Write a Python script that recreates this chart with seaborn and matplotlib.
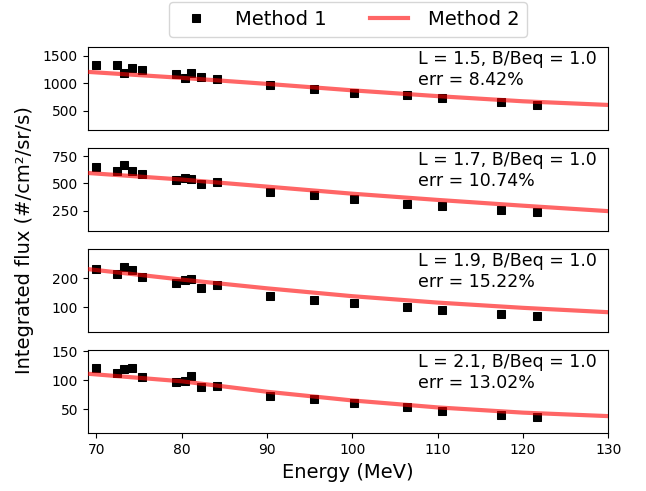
import numpy as np
import pandas as pd
import seaborn as sns
import matplotlib.pyplot as plt

# energies of the Method 1 points (MeV)
energy = [70.0, 72.4, 73.3, 74.2, 75.4, 79.3, 80.4, 81.1, 82.3, 84.1,
          90.4, 95.5, 100.2, 106.4, 110.5, 117.4, 121.6]

# Method 1 points, one list per panel
m1_L15 = [1331, 1331, 1184, 1276, 1239, 1172, 1104, 1196, 1117, 1074,
          963, 902, 828, 791, 731, 658, 611]
m1_L17 = [647, 610, 666, 617, 589, 534, 549, 540, 497, 509,
          420, 396, 356, 313, 288, 258, 233]
m1_L19 = [230, 213, 237, 229, 203, 184, 194, 198, 167, 175,
          138, 125, 113, 100, 89, 78, 71]
m1_L21 = [121.7, 113, 120, 121.7, 105.7, 96, 98.9, 107.4, 88.6, 90.3,
          72.6, 67.4, 60, 53.1, 47.4, 40, 37.1]

# Method 2 curve
fit_energy = [69, 80, 90, 100, 110, 120, 130]
m2_L15 = [1209, 1100, 990, 872, 766, 672, 605]
m2_L17 = [595, 535, 470, 405, 348, 295, 245]
m2_L19 = [231, 195, 165, 138, 116, 98, 83]
m2_L21 = [111, 98, 80, 65, 53, 44, 38]

L_vals = ['1.5', '1.7', '1.9', '2.1']
errs = ['8.42%', '10.74%', '15.22%', '13.02%']
ylims = [(142, 1669), (60, 827), (14, 301), (8.4, 152.4)]
yticks = [[500, 1000, 1500], [250, 500, 750], [100, 200], [50, 100, 150]]
xticks = [70, 80, 90, 100, 110, 120, 130]

method1 = [m1_L15, m1_L17, m1_L19, m1_L21]
method2 = [m2_L15, m2_L17, m2_L19, m2_L21]

fig, axes = plt.subplots(4, 1, figsize=(6.46, 4.91), dpi=100)
plt.subplots_adjust(left=0.1358, right=0.9416, top=0.9049, bottom=0.1175, hspace=0.208)

for i, ax in enumerate(axes):
    sns.lineplot(x=energy, y=method1[i], marker='s', linestyle='none', color='k',
                 markersize=6, markeredgecolor='k', ax=ax, label='Method 1', zorder=2)
    sns.lineplot(x=fit_energy, y=method2[i], color='red', alpha=0.6, lw=3,
                 ax=ax, label='Method 2', zorder=3)
    ax.set_xlim(69, 130)
    ax.set_ylim(*ylims[i])
    ax.set_yticks(yticks[i])
    ax.tick_params(labelsize=10)
    ax.text(0.635, 0.96, 'L = ' + L_vals[i] + ', B/Beq = 1.0\nerr = ' + errs[i],
            transform=ax.transAxes, ha='left', va='top', fontsize=12.5)
    if i < 3:
        ax.set_xticks([])
    else:
        ax.set_xticks(xticks)
    ax.get_legend().remove()

axes[3].set_xlabel('Energy (MeV)', fontsize=14)
fig.text(0.038, 0.511, 'Integrated flux (#/cm²/sr/s)', rotation=90,
         ha='center', va='center', fontsize=14)

handles, labels = axes[0].get_legend_handles_labels()
fig.legend(handles, labels, loc='upper center', bbox_to_anchor=(0.539, 1.0),
           ncol=2, fontsize=14, borderaxespad=0.1, handletextpad=1.0,
           columnspacing=2.2)

fig.savefig('out.png', dpi=100)
